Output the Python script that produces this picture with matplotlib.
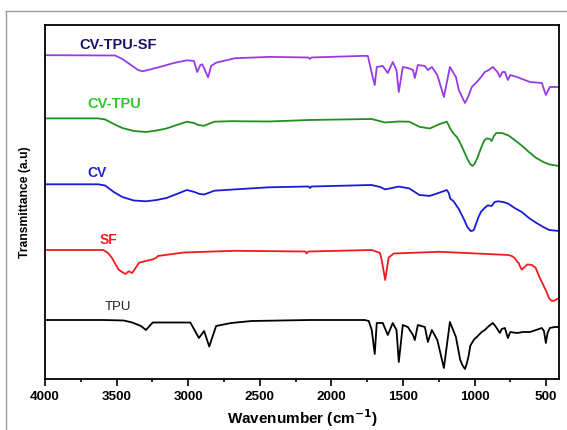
import matplotlib
matplotlib.use("Agg")
import matplotlib.pyplot as plt
from matplotlib.lines import Line2D
from matplotlib.ticker import MultipleLocator

plt.rcParams['font.family'] = ['Liberation Sans', 'DejaVu Sans']

# FTIR spectra, transmittance in arbitrary units (already stacked)
wn_cvtpusf = [4000, 3510, 3460, 3400, 3350, 3319, 3280, 3200, 3100, 3009, 2960, 2937, 2915, 2901,
              2861, 2840, 2805, 2675, 2436, 2160, 2150, 2140, 1779, 1745, 1718, 1697, 1683, 1641,
              1606, 1571, 1545, 1529, 1501, 1466, 1430, 1417, 1396, 1347, 1326, 1298, 1260, 1214,
              1172, 1130, 1110, 1067, 1055, 1040, 1019, 984, 960, 928, 900, 872, 840, 823, 805,
              788, 767, 750, 704, 613, 530, 502, 474, 410]
t_cvtpusf = [323.8, 323.5, 320, 314, 309, 307.7, 309, 312, 316, 318.7, 318, 307, 314, 314.6,
             301.6, 313, 316.3, 320.7, 322.1, 321.5, 320, 321.5, 323.1, 323, 306, 294, 312, 313,
             306, 317, 309, 287, 312, 311, 309, 301, 314, 313, 309, 312, 304, 282,
             312, 302, 289, 276, 279, 284, 292, 297, 301, 307, 309, 312, 307, 302, 307,
             307, 299, 304, 302, 297, 296, 284, 292, 292]

wn_cvtpu = [4000, 3629, 3580, 3520, 3460, 3380, 3295, 3220, 3152, 3080, 3009, 2960, 2930, 2889,
            2850, 2817, 2700, 2437, 2149, 1719, 1624, 1529, 1456, 1385, 1313, 1242, 1194, 1185,
            1170, 1150, 1124, 1100, 1075, 1050, 1030, 1015, 1000, 979, 960, 940, 932, 915,
            895, 880, 865, 848, 810, 764, 720, 670, 620, 573, 520, 478, 410]
t_cvtpu = [260.6, 260.6, 259.5, 255, 251, 248, 247, 248.5, 250.5, 254, 257.3, 256, 254, 253.2,
           255.5, 257.3, 257.8, 257.5, 259, 260, 256.5, 257.5, 257.3, 252.2, 250.5, 255, 257.3, 255,
           250.5, 246, 242, 236, 228.2, 220, 215, 213, 215, 221.4, 229, 236, 238.5, 240.5,
           240.2, 238, 243, 246, 246, 243.6, 239, 233.4, 227, 221.4, 217, 214.6, 213]

wn_cv = [4000, 3629, 3580, 3520, 3460, 3380, 3295, 3220, 3152, 3080, 3009, 2961, 2920, 2889,
         2850, 2817, 2437, 2160, 2149, 2140, 1719, 1660, 1624, 1529, 1456, 1385, 1313, 1242,
         1194, 1180, 1170, 1146, 1110, 1075, 1050, 1027, 1010, 1003, 990, 975, 956, 930,
         908, 880, 860, 836, 800, 764, 720, 670, 620, 573, 520, 478, 410]
t_cv = [194.7, 194.7, 193.5, 187, 182, 178.5, 177.7, 179, 181, 185, 189, 187.2, 185, 184.5,
        186.5, 188.3, 191.7, 192.5, 191, 192.5, 194, 192, 189.6, 192.4, 190.6, 184, 183.1, 186.5,
        189, 186, 180.4, 177.7, 170, 160, 152, 148, 148.5, 149.6, 155, 161, 167, 171,
        173.6, 173, 177, 177.7, 177, 175.3, 171, 167, 161, 156.5, 152, 149, 148]

wn_sf = [4000, 3593, 3560, 3534, 3486, 3462, 3438, 3415, 3391, 3343, 3248, 3225, 3211, 3032,
         2675, 2180, 2173, 2160, 1719, 1660, 1647, 1624, 1600, 1564, 1243, 764, 740, 720,
         700, 693, 680, 670, 650, 630, 600, 573, 550, 526, 500, 478, 460, 440, 410]
t_sf = [129, 129, 126, 121.4, 109.4, 107, 105, 107.7, 106, 116.3, 119.7, 121, 123, 126.5,
        128.2, 127.5, 125.5, 127.5, 129, 126, 118, 99, 121.4, 125.5, 127.2, 124, 123, 121,
        117, 116.3, 112, 109.4, 112, 114.6, 114, 111.2, 103, 95.8, 88, 80.4, 78, 78.5, 81]

wn_tpu = [4000, 3593, 3450, 3391, 3330, 3295, 3270, 3248, 2985, 2925, 2889, 2853, 2805, 2700,
          2556, 2150, 1767, 1739, 1718, 1697, 1683, 1641, 1606, 1571, 1545, 1529, 1501, 1466,
          1430, 1417, 1396, 1347, 1326, 1298, 1260, 1214, 1172, 1130, 1100, 1085, 1067, 1055,
          1040, 1030, 1019, 1000, 984, 950, 928, 900, 872, 850, 823, 810, 788, 767,
          750, 704, 660, 613, 570, 530, 515, 502, 490, 474, 440, 410]
t_tpu = [59, 59, 58.5, 56.5, 53, 49, 53, 56.5, 56.5, 41, 48, 32.5, 53, 56,
         58, 59, 59, 58, 49, 25, 56, 56, 44, 56, 49, 17, 54, 52,
         44, 39, 54, 52, 37, 49, 39, 11, 57, 42, 19, 14, 10, 15,
         24, 33, 36, 40, 42, 47, 49, 53, 56, 52, 46, 50, 51, 41,
         47, 46, 47, 47, 49, 51, 48, 36, 46, 51, 52, 52]

fig = plt.figure(figsize=(5.67, 4.30), dpi=100)
ax = fig.add_axes([0.0794, 0.1186, 0.9065, 0.8233])

ax.plot(wn_cvtpusf, t_cvtpusf, color='#9a3ae6', lw=1.3)
ax.plot(wn_cvtpu, t_cvtpu, color='#1f8f1f', lw=1.3)
ax.plot(wn_cv, t_cv, color='#1a1ad6', lw=1.3)
ax.plot(wn_sf, t_sf, color='#ee1c1c', lw=1.3)
ax.plot(wn_tpu, t_tpu, color='black', lw=1.3)

ax.text(3757, 334, 'CV-TPU-SF', color='#1b1464', fontsize=10.5, fontweight='bold', va='center')
ax.text(3701, 275, 'CV-TPU', color='#2ec82e', fontsize=10.5, fontweight='bold', va='center')
ax.text(3701, 206, 'CV', color='#2222cc', fontsize=10, fontweight='bold', va='center')
ax.text(3617, 138.5, 'SF', color='#ee2222', fontsize=10, fontweight='bold', va='center')
ax.text(3586, 72, 'TPU', color='#222222', fontsize=9.5, va='center')

ax.set_xlim(4000, 410)
ax.set_ylim(0, 354)
ax.xaxis.set_major_locator(MultipleLocator(500))
ax.xaxis.set_minor_locator(MultipleLocator(250))
ax.tick_params(axis='x', which='major', direction='out', length=5, width=1.2, pad=3.5,
               labelsize=9.7)
ax.tick_params(axis='x', which='minor', direction='out', length=2.5, width=1.2)
for lab in ax.get_xticklabels():
    lab.set_fontweight('bold')
ax.set_yticks([])
for s in ax.spines.values():
    s.set_linewidth(1.3)

ax.set_xlabel('Wavenumber (cm$^{\\mathbf{-1}}$)', fontsize=11, fontweight='bold', labelpad=3)
ax.set_ylabel('Transmittance (a.u)', fontsize=8.7, fontweight='bold', labelpad=10)

# thin grey frame around the figure
fig.add_artist(Line2D([0.0106, 1.0], [0.9744, 0.9744], color='#999999', lw=1))
fig.add_artist(Line2D([0.0106, 0.0106], [0.0, 0.9744], color='#999999', lw=1))

fig.savefig('out.png', dpi=100)
